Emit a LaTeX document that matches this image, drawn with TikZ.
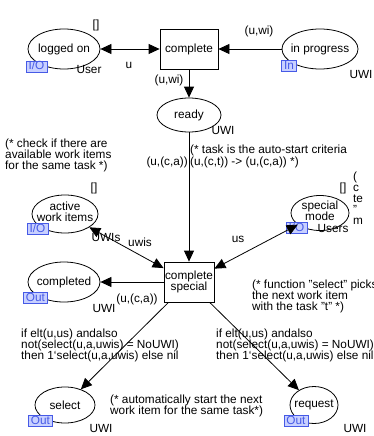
\documentclass[tikz,border=0pt]{standalone}
\usepackage{fontspec}
\setmainfont{Liberation Sans}
\usetikzlibrary{arrows.meta,shapes.geometric}
\definecolor{tagblue}{RGB}{70,90,230}
\definecolor{tagfill}{RGB}{200,208,255}
\begin{document}
\begin{tikzpicture}[x=1pt,y=-1pt,
  every node/.style={font=\fontsize{11.8}{11}\selectfont},
  place/.style={draw, ellipse, line width=0.8pt, inner sep=0pt},
  trans/.style={draw, rectangle, line width=0.8pt, inner sep=0pt, align=center},
  tag/.style={draw=tagblue, fill=tagfill, text=tagblue, line width=0.6pt,
    inner xsep=2.5pt, inner ysep=0.8pt, text height=8pt, text depth=1pt},
  lbl/.style={inner sep=0pt, anchor=base},
  txt/.style={inner sep=0pt, anchor=base west},
  arc/.style={line width=0.8pt, -{Triangle[length=11pt,width=10pt]}},
  barc/.style={line width=0.8pt, {Triangle[length=11pt,width=10pt]}-{Triangle[length=11pt,width=10pt]}}
]
\useasboundingbox (0,0) rectangle (373,436);
% places
\node[place, minimum width=72pt, minimum height=40pt, label=center:{logged on}] (lo) at (64,49) {};
\node[place, minimum width=76pt, minimum height=40pt, label=center:{in progress}] (ip) at (320,49) {};
\node[place, minimum width=64pt, minimum height=34pt, label=center:{ready}] (ready) at (189,115) {};
\node[place, minimum width=66pt, minimum height=38pt, label={[align=center, yshift=2pt]center:{active\\work items}}] (aw) at (65,214) {};
\node[place, minimum width=58pt, minimum height=35pt, label={[align=center, yshift=2pt]center:{special\\mode}}] (sm) at (320,213) {};
\node[place, minimum width=72pt, minimum height=40pt, label=center:{completed}] (cd) at (64,282) {};
\node[place, minimum width=60pt, minimum height=36pt, label=center:{select}] (sel) at (65,405) {};
\node[place, minimum width=48pt, minimum height=37pt, label=center:{request}] (req) at (314,405) {};
% transitions
\node[trans, minimum width=58pt, minimum height=40pt] (c) at (189,49) {complete};
\node[trans, minimum width=50pt, minimum height=40pt] (cs) at (189,282) {complete\\special};
% tags
\node[tag] (t1) at (36.5,66.5) {I/O};
\node[tag] (t2) at (289,66) {In};
\node[tag] (t3) at (37.5,229) {I/O};
\node[tag] (t4) at (296.5,227.5) {I/O};
\node[tag] (t5) at (35.5,298) {Out};
\node[tag] (t6) at (40.5,420.5) {Out};
\node[tag] (t7) at (296,421) {Out};
% arcs
\draw[barc] (lo) -- (c);
\draw[arc] (ip) -- (c);
\draw[arc] (c) -- (ready);
\draw[arc] (ready) -- (cs);
\draw[barc] (aw) -- (cs);
\draw[barc] (sm) -- (cs);
\draw[arc] (cs) -- (cd);
\draw[arc] (cs) -- (sel);
\draw[arc] (cs) -- (req);
% labels
\node[lbl] (m1) at (96,28.5) {[]};
\node[lbl] (ty1) at (89,74) {User};
\node[lbl] (a1) at (129,69) {u};
\node[lbl] (a2) at (259,35) {(u,wi)};
\node[lbl] (ty2) at (361,78) {UWI};
\node[lbl] (a3) at (169,83) {(u,wi)};
\node[lbl] (ty3) at (223,134) {UWI};
\node[inner sep=0pt, anchor=base east] (a4) at (188,165) {(u,(c,a))};
\node[txt] (k1a) at (190,153.5) {(* task is the auto-start criteria};
\node[txt] (k1b) at (190,165) {(u,(c,t)) -> (u,(c,a)) *)};
\node[txt] (k2a) at (5,147) {(* check if there are};
\node[txt] (k2b) at (5,158) {available work items};
\node[txt] (k2c) at (5,169) {for the same task *)};
\node[lbl] (m2) at (94,191) {[]};
\node[lbl] (m3) at (343,191) {[]};
\node[txt] (k3a) at (353,180.5) {(};
\node[txt] (k3b) at (353,191.5) {c};
\node[txt] (k3c) at (353,202.5) {te};
\node[txt] (k3d) at (353,213.5) {"};
\node[txt] (k3e) at (353,224.5) {m};
\node[lbl] (ty4) at (106,241) {UWIs};
\node[lbl] (a5) at (140,246) {uwis};
\node[lbl] (a6) at (238,242) {us};
\node[lbl] (ty5) at (333,232) {Users};
\node[lbl] (ty6) at (104,312) {UWI};
\node[lbl] (a7) at (137,302) {(u,(c,a))};
\node[txt] (k4a) at (252,288.5) {(* function "select" picks};
\node[txt] (k4b) at (252,299.5) {the next work item};
\node[txt] (k4c) at (252,310.5) {with the task "t" *)};
\node[txt] (a8a) at (21,337.5) {if elt(u,us) andalso};
\node[txt] (a8b) at (21,348.5) {not(select(u,a,uwis) = NoUWI)};
\node[txt] (a8c) at (21,359.5) {then 1‘select(u,a,uwis) else nil};
\node[txt] (a9a) at (216,337.5) {if elt(u,us) andalso};
\node[txt] (a9b) at (216,348.5) {not(select(u,a,uwis) = NoUWI)};
\node[txt] (a9c) at (216,359.5) {then 1‘select(u,a,uwis) else nil};
\node[txt] (k5a) at (110,403.5) {(* automatically start the next};
\node[txt] (k5b) at (110,414.5) {work item for the same task*)};
\node[lbl] (ty7) at (101,432) {UWI};
\node[lbl] (ty8) at (355,432) {UWI};
\end{tikzpicture}
\end{document}
